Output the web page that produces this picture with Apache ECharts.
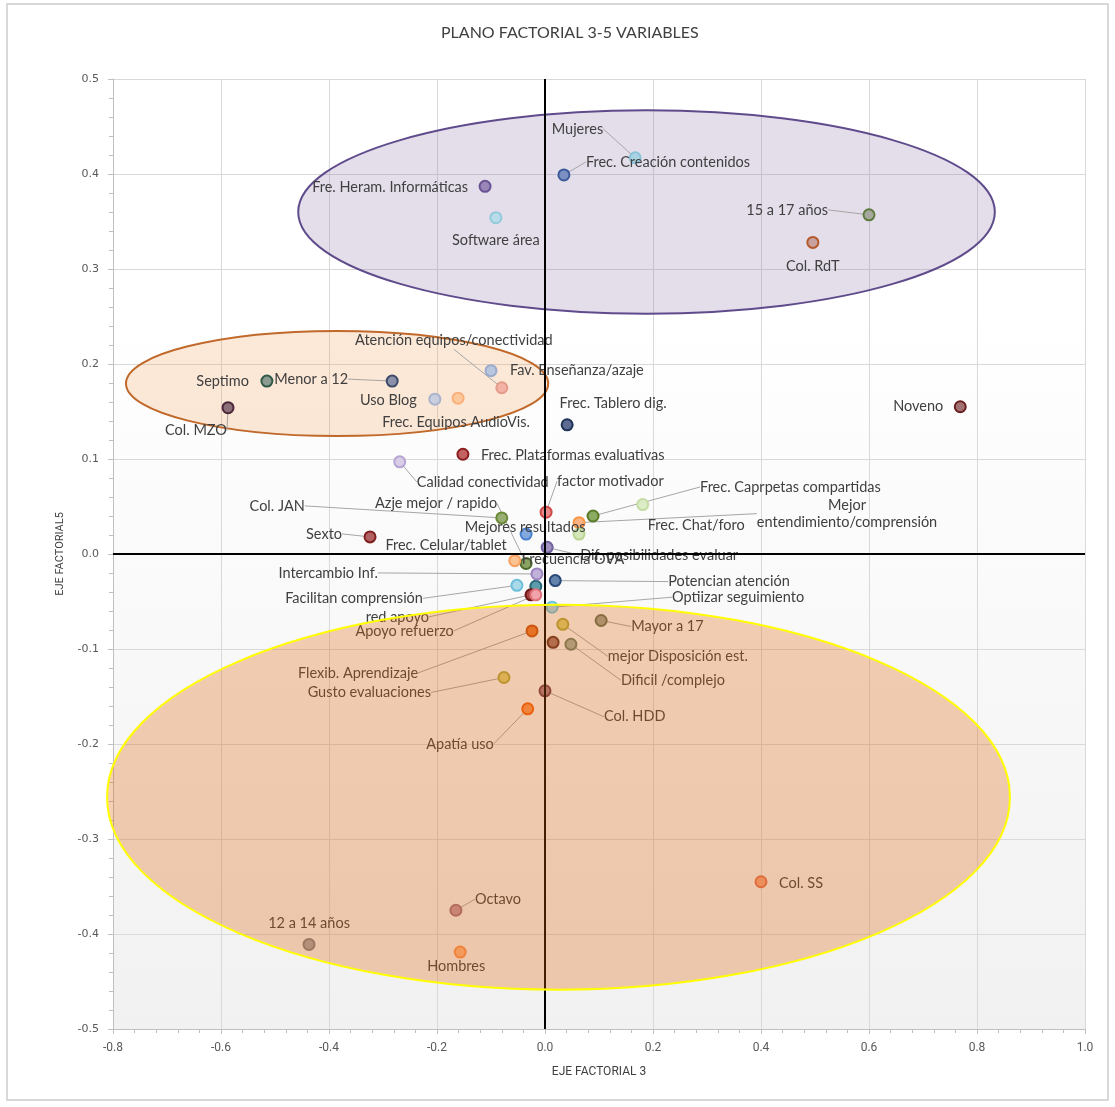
<!DOCTYPE html>
<html>
<head>
<meta charset="utf-8">
<script src="https://cdn.jsdelivr.net/npm/echarts@6/dist/echarts.min.js"></script>
<style>
  html, body { margin: 0; padding: 0; background: #ffffff; }
  #chart { width: 1115px; height: 1107px; }
</style>
</head>
<body>
<div id="chart"></div>
<script>
// Variable names (empty string = point drawn without a label)
const names = [
  'Mujeres', 'Frec. Creación contenidos', 'Fre. Heram. Informáticas', 'Software área',
  '15 a 17 años', 'Col. RdT', 'Atención equipos/conectividad', 'Fav. Enseñanza/azaje',
  'Septimo', 'Menor a 12', 'Uso Blog', 'Frec. Equipos AudioVis.',
  'Col. MZO', 'Frec. Tablero dig.', 'Noveno', 'Frec. Plataformas evaluativas',
  'Calidad conectividad', 'factor motivador', 'Frec. Caprpetas compartidas', 'Frec. Chat/foro',
  'Mejor\nentendimiento/comprensión', '', 'Col. JAN', 'Mejores resultados',
  'Azje mejor / rapido', 'Frecuencia OVA', 'Frec. Celular/tablet', 'Dif. posibilidades evaluar',
  'Sexto', 'Intercambio Inf.', 'Facilitan comprensión', 'Potencian atención',
  'red apoyo', 'Apoyo refuerzo', 'Optiizar seguimiento', 'Mayor a 17',
  'mejor Disposición est.', '', 'Dificil /complejo', 'Flexib. Aprendizaje',
  'Gusto evaluaciones', 'Col. HDD', 'Apatía uso', 'Col. SS',
  'Octavo', '12 a 14 años', 'Hombres'
];

// Coordinates on factorial axis 3
const factor3 = [
  0.167, 0.035, -0.111, -0.091,
  0.600, 0.496, -0.080, -0.100,
  -0.515, -0.283, -0.204, -0.161,
  -0.587, 0.041, 0.769, -0.152,
  -0.269, 0.002, 0.089, 0.181,
  0.063, 0.063, -0.080, -0.035,
  -0.035, -0.056, -0.017, 0.004,
  -0.324, -0.015, -0.052, 0.019,
  -0.026, -0.017, 0.013, 0.104,
  0.033, 0.015, 0.048, -0.024,
  -0.076, 0.000, -0.032, 0.400,
  -0.165, -0.437, -0.157
];

// Coordinates on factorial axis 5
const factor5 = [
  0.417, 0.399, 0.387, 0.354,
  0.357, 0.328, 0.175, 0.193,
  0.182, 0.182, 0.163, 0.164,
  0.154, 0.136, 0.155, 0.105,
  0.097, 0.044, 0.040, 0.052,
  0.033, 0.021, 0.038, 0.021,
  -0.010, -0.007, -0.034, 0.007,
  0.018, -0.021, -0.033, -0.028,
  -0.043, -0.043, -0.056, -0.070,
  -0.074, -0.093, -0.095, -0.081,
  -0.130, -0.144, -0.163, -0.345,
  -0.375, -0.411, -0.419
];

// Grouping ellipses: centre and semi-axes in axis units
const groupCenter3 = [0.188, -0.385, 0.025];
const groupCenter5 = [0.360, 0.1795, -0.256];
const groupRadius3 = [0.645, 0.391, 0.836];
const groupRadius5 = [0.107, 0.0553, 0.2026];

// Axis tick values
const xTicks = [-0.8, -0.6, -0.4, -0.2, 0.0, 0.2, 0.4, 0.6, 0.8, 1.0];
const yTicks = [-0.5, -0.4, -0.3, -0.2, -0.1, 0.0, 0.1, 0.2, 0.3, 0.4, 0.5];

// ---- styling ----
const markerFill = [
  '#a9d3e3', '#7b90c0', '#9a87b8', '#b9dcea',
  '#a6a89f', '#c9a2a0', '#f2b3a6', '#bac6dd',
  '#8b9b92', '#8a91a9', '#c9cfdf', '#fcc89c',
  '#8c7079', '#5b6b91', '#a27272', '#c46262',
  '#d9cde9', '#ea8a8a', '#8cab62', '#dcecc6',
  '#fcb283', '#d5e7ba', '#99ae72', '#82a9e0',
  '#8aa262', '#fcc292', '#5c9ba9', '#a291c1',
  '#b26262', '#c2b2d9', '#aad9e9', '#6282aa',
  '#a24242', '#f2a2aa', '#aadded', '#9aa292',
  '#dad272', '#a27269', '#a2b2a2', '#ea7a32',
  '#dad272', '#a27a8a', '#f99252', '#f2a282',
  '#c292a2', '#a2a2aa', '#fcb282'
];
const markerBorder = [
  '#8cc3d9', '#3c5a99', '#6a5394', '#93c9dc',
  '#5e7a3e', '#b5592a', '#e59a8a', '#9aabcd',
  '#2f5a48', '#3d4a6a', '#aab4cc', '#fab07a',
  '#4a2838', '#1f3358', '#6a2020', '#8a1e1e',
  '#b6a4d2', '#d04848', '#5a7a28', '#c4dca4',
  '#f79646', '#b8d490', '#6a8a38', '#4a80cc',
  '#4a6a28', '#f8a060', '#2a6a78', '#7060a0',
  '#802020', '#9a84c0', '#6cc0dc', '#2a4878',
  '#701818', '#e07078', '#6cc4e0', '#607058',
  '#b0a840', '#603028', '#6a806a', '#c05010',
  '#b0a840', '#704050', '#f06010', '#e07050',
  '#a07080', '#808088', '#f89050'
];

// Label anchor offset from the marker (px), alignment, and whether a leader line is drawn
const labelPlacement = {
  'Mujeres': [-32, -29, 'right', true],
  'Frec. Creación contenidos': [22, -13, 'left', true],
  'Fre. Heram. Informáticas': [-17, 1, 'right', false],
  'Software área': [0, 23, 'center', false],
  '15 a 17 años': [-41, -5, 'right', true],
  'Col. RdT': [0, 24, 'center', false],
  'Atención equipos/conectividad': [-48, -47, 'center', true],
  'Fav. Enseñanza/azaje': [19, 0, 'left', false],
  'Septimo': [-18, 0, 'right', false],
  'Menor a 12': [-44, -2, 'right', true],
  'Uso Blog': [-18, 1, 'right', false],
  'Frec. Equipos AudioVis.': [-2, 24, 'center', false],
  'Col. MZO': [-32, 23, 'center', true],
  'Frec. Tablero dig.': [46, -21, 'center', false],
  'Noveno': [-17, 0, 'right', false],
  'Frec. Plataformas evaluativas': [18, 1, 'left', false],
  'Calidad conectividad': [17, 20, 'left', true],
  'factor motivador': [11, -31, 'left', true],
  'Frec. Caprpetas compartidas': [107, -29, 'left', true],
  'Frec. Chat/foro': [5, 21, 'left', false],
  'Mejor\nentendimiento/comprensión': [268, -9, 'center', true],
  'Col. JAN': [-197, -12, 'right', true],
  'Mejores resultados': [-1, -7, 'center', false],
  'Azje mejor / rapido': [-29, -60, 'right', true],
  'Frecuencia OVA': [7, -1, 'left', false],
  'Frec. Celular/tablet': [-29, -41, 'right', false],
  'Dif. posibilidades evaluar': [33, 8, 'left', true],
  'Sexto': [-28, -3, 'right', true],
  'Intercambio Inf.': [-159, -1, 'right', true],
  'Facilitan comprensión': [-94, 13, 'right', true],
  'Potencian atención': [113, 1, 'left', true],
  'red apoyo': [-102, 22, 'right', true],
  'Apoyo refuerzo': [-82, 36, 'right', true],
  'Optiizar seguimiento': [120, -10, 'left', true],
  'Mayor a 17': [30, 6, 'left', true],
  'mejor Disposición est.': [45, 32, 'left', true],
  'Dificil /complejo': [50, 36, 'left', true],
  'Flexib. Aprendizaje': [-114, 42, 'right', true],
  'Gusto evaluaciones': [-73, 15, 'right', true],
  'Col. HDD': [59, 26, 'left', true],
  'Apatía uso': [-34, 35, 'right', true],
  'Col. SS': [18, 2, 'left', false],
  'Octavo': [19, -11, 'left', true],
  '12 a 14 años': [0, -21, 'center', false],
  'Hombres': [-4, 14, 'center', false]
};

// Ellipse styling and drawing layer (0 = beneath markers, 1 = translucent overlay on top)
const groupFill = ['rgba(128,100,162,0.21)', 'rgba(247,150,70,0.21)', 'rgba(222,100,10,0.30)'];
const groupStroke = ['#5f4b8b', '#c0692a', '#ffff00'];
const groupLayer = [0, 0, 1];

const pointData = names.map(function (n, i) {
  const pl = labelPlacement[n];
  return {
    name: n,
    value: [factor3[i], factor5[i]],
    itemStyle: { color: markerFill[i], borderColor: markerBorder[i] },
    label: { show: !!pl },
    labelLine: { show: !!(pl && pl[3]) }
  };
});

function ellipseData(layer) {
  const out = [];
  for (let i = 0; i < groupCenter3.length; i++) {
    if (groupLayer[i] === layer) {
      out.push({ value: [groupCenter3[i], groupCenter5[i], groupRadius3[i], groupRadius5[i]], groupIndex: i });
    }
  }
  return out;
}

function renderEllipse(layer) {
  const rows = ellipseData(layer);
  return function (params, api) {
    const g = rows[params.dataIndex].groupIndex;
    const c = api.coord([api.value(0), api.value(1)]);
    const s = api.size([api.value(2), api.value(3)], [api.value(0), api.value(1)]);
    return {
      type: 'ellipse',
      shape: { cx: c[0], cy: c[1], rx: s[0], ry: s[1] },
      style: { fill: groupFill[g], stroke: groupStroke[g], lineWidth: 2 }
    };
  };
}

const chart = echarts.init(document.getElementById('chart'), null, { renderer: 'canvas' });

const axisLabelColor = '#595959';

chart.setOption({
  animation: false,
  backgroundColor: '#ffffff',
  title: {
    text: 'PLANO FACTORIAL 3-5 VARIABLES',
    left: 436,
    top: 20,
    textStyle: { fontFamily: 'Lato', fontSize: 16, fontWeight: 'normal', color: '#404040' }
  },
  graphic: [{
    type: 'rect',
    shape: { x: 7, y: 4, width: 1101, height: 1096 },
    style: { fill: 'none', stroke: '#d9d9d9', lineWidth: 2 },
    silent: true,
    z: -10
  }],
  grid: {
    left: 113, right: 30, top: 79, bottom: 78,
    show: true,
    borderWidth: 0,
    backgroundColor: {
      type: 'linear', x: 0, y: 0, x2: 0, y2: 1,
      colorStops: [
        { offset: 0, color: '#ffffff' },
        { offset: 0.25, color: '#ffffff' },
        { offset: 1, color: '#f1f1f1' }
      ]
    }
  },
  xAxis: {
    type: 'value',
    min: xTicks[0],
    max: xTicks[xTicks.length - 1],
    interval: 0.2,
    name: 'EJE FACTORIAL 3',
    nameLocation: 'middle',
    nameGap: 37,
    nameTextStyle: { fontFamily: 'Roboto', fontSize: 12, color: '#404040' },
    axisLine: { show: true, onZero: false, lineStyle: { color: '#bfbfbf', width: 1 } },
    axisTick: { show: true, length: 5, lineStyle: { color: '#bfbfbf' } },
    minorTick: { show: true, splitNumber: 5, length: 4, lineStyle: { color: '#bfbfbf' } },
    splitLine: { show: true, lineStyle: { color: '#d9d9d9', width: 1 } },
    axisLabel: {
      margin: 13,
      fontFamily: 'Roboto', fontSize: 12, color: axisLabelColor,
      formatter: function (v) { return v.toFixed(1); }
    }
  },
  yAxis: {
    type: 'value',
    min: yTicks[0],
    max: yTicks[yTicks.length - 1],
    interval: 0.1,
    name: 'EJE FACTORIAL5',
    nameLocation: 'middle',
    nameGap: 47,
    nameRotate: 90,
    nameTextStyle: { fontFamily: 'Roboto', fontSize: 11, color: '#404040' },
    axisLine: { show: true, onZero: false, lineStyle: { color: '#bfbfbf', width: 1 } },
    axisTick: { show: true, length: 5, lineStyle: { color: '#bfbfbf' } },
    minorTick: { show: true, splitNumber: 5, length: 4, lineStyle: { color: '#bfbfbf' } },
    splitLine: { show: true, lineStyle: { color: '#d9d9d9', width: 1 } },
    axisLabel: {
      margin: 14,
      fontFamily: 'DejaVu Sans', fontSize: 11, color: axisLabelColor,
      formatter: function (v) { return v.toFixed(1); }
    }
  },
  series: [
    {
      // grouping ellipses beneath the markers
      type: 'custom',
      z: 1,
      silent: true,
      clip: false,
      data: ellipseData(0),
      renderItem: renderEllipse(0)
    },
    {
      // zero reference lines
      type: 'scatter',
      z: 2,
      silent: true,
      data: [],
      markLine: {
        silent: true,
        symbol: ['none', 'none'],
        label: { show: false },
        lineStyle: { color: '#000000', width: 2, type: 'solid' },
        data: [{ xAxis: 0 }, { yAxis: 0 }]
      }
    },
    {
      type: 'scatter',
      z: 3,
      symbol: 'circle',
      symbolSize: 11,
      itemStyle: { borderWidth: 2, opacity: 1 },
      label: {
        show: true,
        position: 'right',
        formatter: '{b}',
        fontFamily: 'Lato',
        fontSize: 14.5,
        color: '#404040',
        lineHeight: 17
      },
      labelLine: { show: false, lineStyle: { color: '#a6a6a6', width: 1 } },
      labelLayout: function (p) {
        const pl = labelPlacement[names[p.dataIndex]];
        if (!pl) { return {}; }
        const cx = p.rect.x + p.rect.width / 2;
        const cy = p.rect.y + p.rect.height / 2;
        return { x: cx + pl[0], y: cy + pl[1], align: pl[2], verticalAlign: 'middle' };
      },
      data: pointData
    },
    {
      // translucent grouping ellipse drawn over the markers
      type: 'custom',
      z: 6,
      silent: true,
      clip: false,
      data: ellipseData(1),
      renderItem: renderEllipse(1)
    }
  ]
});
</script>
</body>
</html>
